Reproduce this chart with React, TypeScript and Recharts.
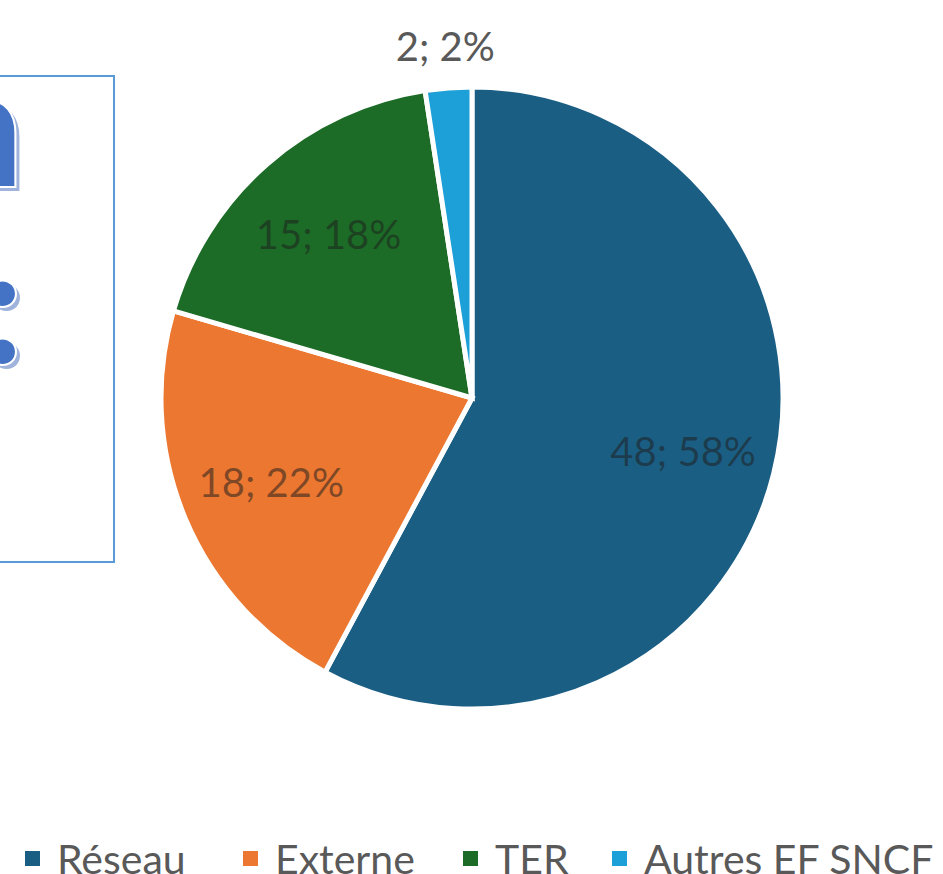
import { PieChart, Pie, Cell, Legend } from 'recharts'

const categories = ['Réseau', 'Externe', 'TER', 'Autres EF SNCF']
const counts = [48, 18, 15, 2]
const percents = ['58%', '22%', '18%', '2%']
const colors = ['#1b5e84', '#ec7730', '#1c6c27', '#1d9fd8']

const data = categories.map((name, i) => ({ name, value: counts[i], pct: percents[i] }))

const RAD = Math.PI / 180
const FONT = 'Lato, "Open Sans", sans-serif'

interface LabelProps {
  cx: number
  cy: number
  midAngle: number
  outerRadius: number
  index: number
  percent: number
}

function SliceLabel({ cx, cy, midAngle, outerRadius, index, percent }: LabelProps) {
  const outside = percent < 0.05
  const r = outside ? outerRadius + 42 : outerRadius * 0.7
  const x = cx + r * Math.cos(-midAngle * RAD)
  const y = cy + r * Math.sin(-midAngle * RAD)
  const d = data[index]
  return (
    <text
      x={x}
      y={y}
      textAnchor="middle"
      dominantBaseline="central"
      fontFamily={FONT}
      fontSize={40}
      fill={outside ? '#595959' : '#1e1e1e'}
      fillOpacity={outside ? 1 : 0.55}
    >
      {`${d.value}; ${d.pct}`}
    </text>
  )
}

const legendWidths = [218, 220, 149, 300]

function LegendRow() {
  return (
    <div style={{ display: 'flex', alignItems: 'center', whiteSpace: 'nowrap', fontFamily: FONT, fontSize: 41, color: '#595959', paddingLeft: 25, height: 56 }}>
      {data.map((d, i) => (
        <div key={d.name} style={{ display: 'flex', alignItems: 'center', width: legendWidths[i], flex: 'none' }}>
          <span style={{ width: 15, height: 15, background: colors[i], marginRight: 17, display: 'inline-block', flex: 'none' }} />
          <span>{d.name}</span>
        </div>
      ))}
    </div>
  )
}

function TitleBox() {
  return (
    <div style={{ position: 'absolute', left: 0, top: 75, width: 113, height: 484, borderRight: '2px solid #5b9bd5', borderTop: '2px solid #5b9bd5', borderBottom: '2px solid #5b9bd5', overflow: 'hidden' }}>
      <svg width={113} height={484} style={{ display: 'block' }}>
        {[
          { t: 'n', y: 110 },
          { t: ':', y: 287 },
        ].map(g => (
          <g key={g.t} fontFamily={FONT} fontWeight={900} fontSize={165} textAnchor="end">
            <text x={28} y={g.y + 4} fill="#9fb3dc">{g.t}</text>
            <text x={24} y={g.y} fill="#4472c4" stroke="#ffffff" strokeWidth={2}>{g.t}</text>
          </g>
        ))}
      </svg>
    </div>
  )
}

export default function App() {
  return (
    <div style={{ position: 'absolute', left: 0, top: 0, width: 943, height: 874, background: '#fff', overflow: 'hidden' }}>
      <PieChart width={943} height={874}>
        <Pie
          data={data}
          dataKey="value"
          nameKey="name"
          cx={467}
          cy={393}
          outerRadius={311}
          startAngle={90}
          endAngle={-270}
          stroke="#ffffff"
          strokeWidth={5}
          label={SliceLabel}
          labelLine={false}
          isAnimationActive={false}
        >
          {data.map((d, i) => <Cell key={d.name} fill={colors[i]} />)}
        </Pie>
        <Legend content={<LegendRow />} wrapperStyle={{ top: 830, left: 0, width: 943 }} />
      </PieChart>
      <TitleBox />
    </div>
  )
}
